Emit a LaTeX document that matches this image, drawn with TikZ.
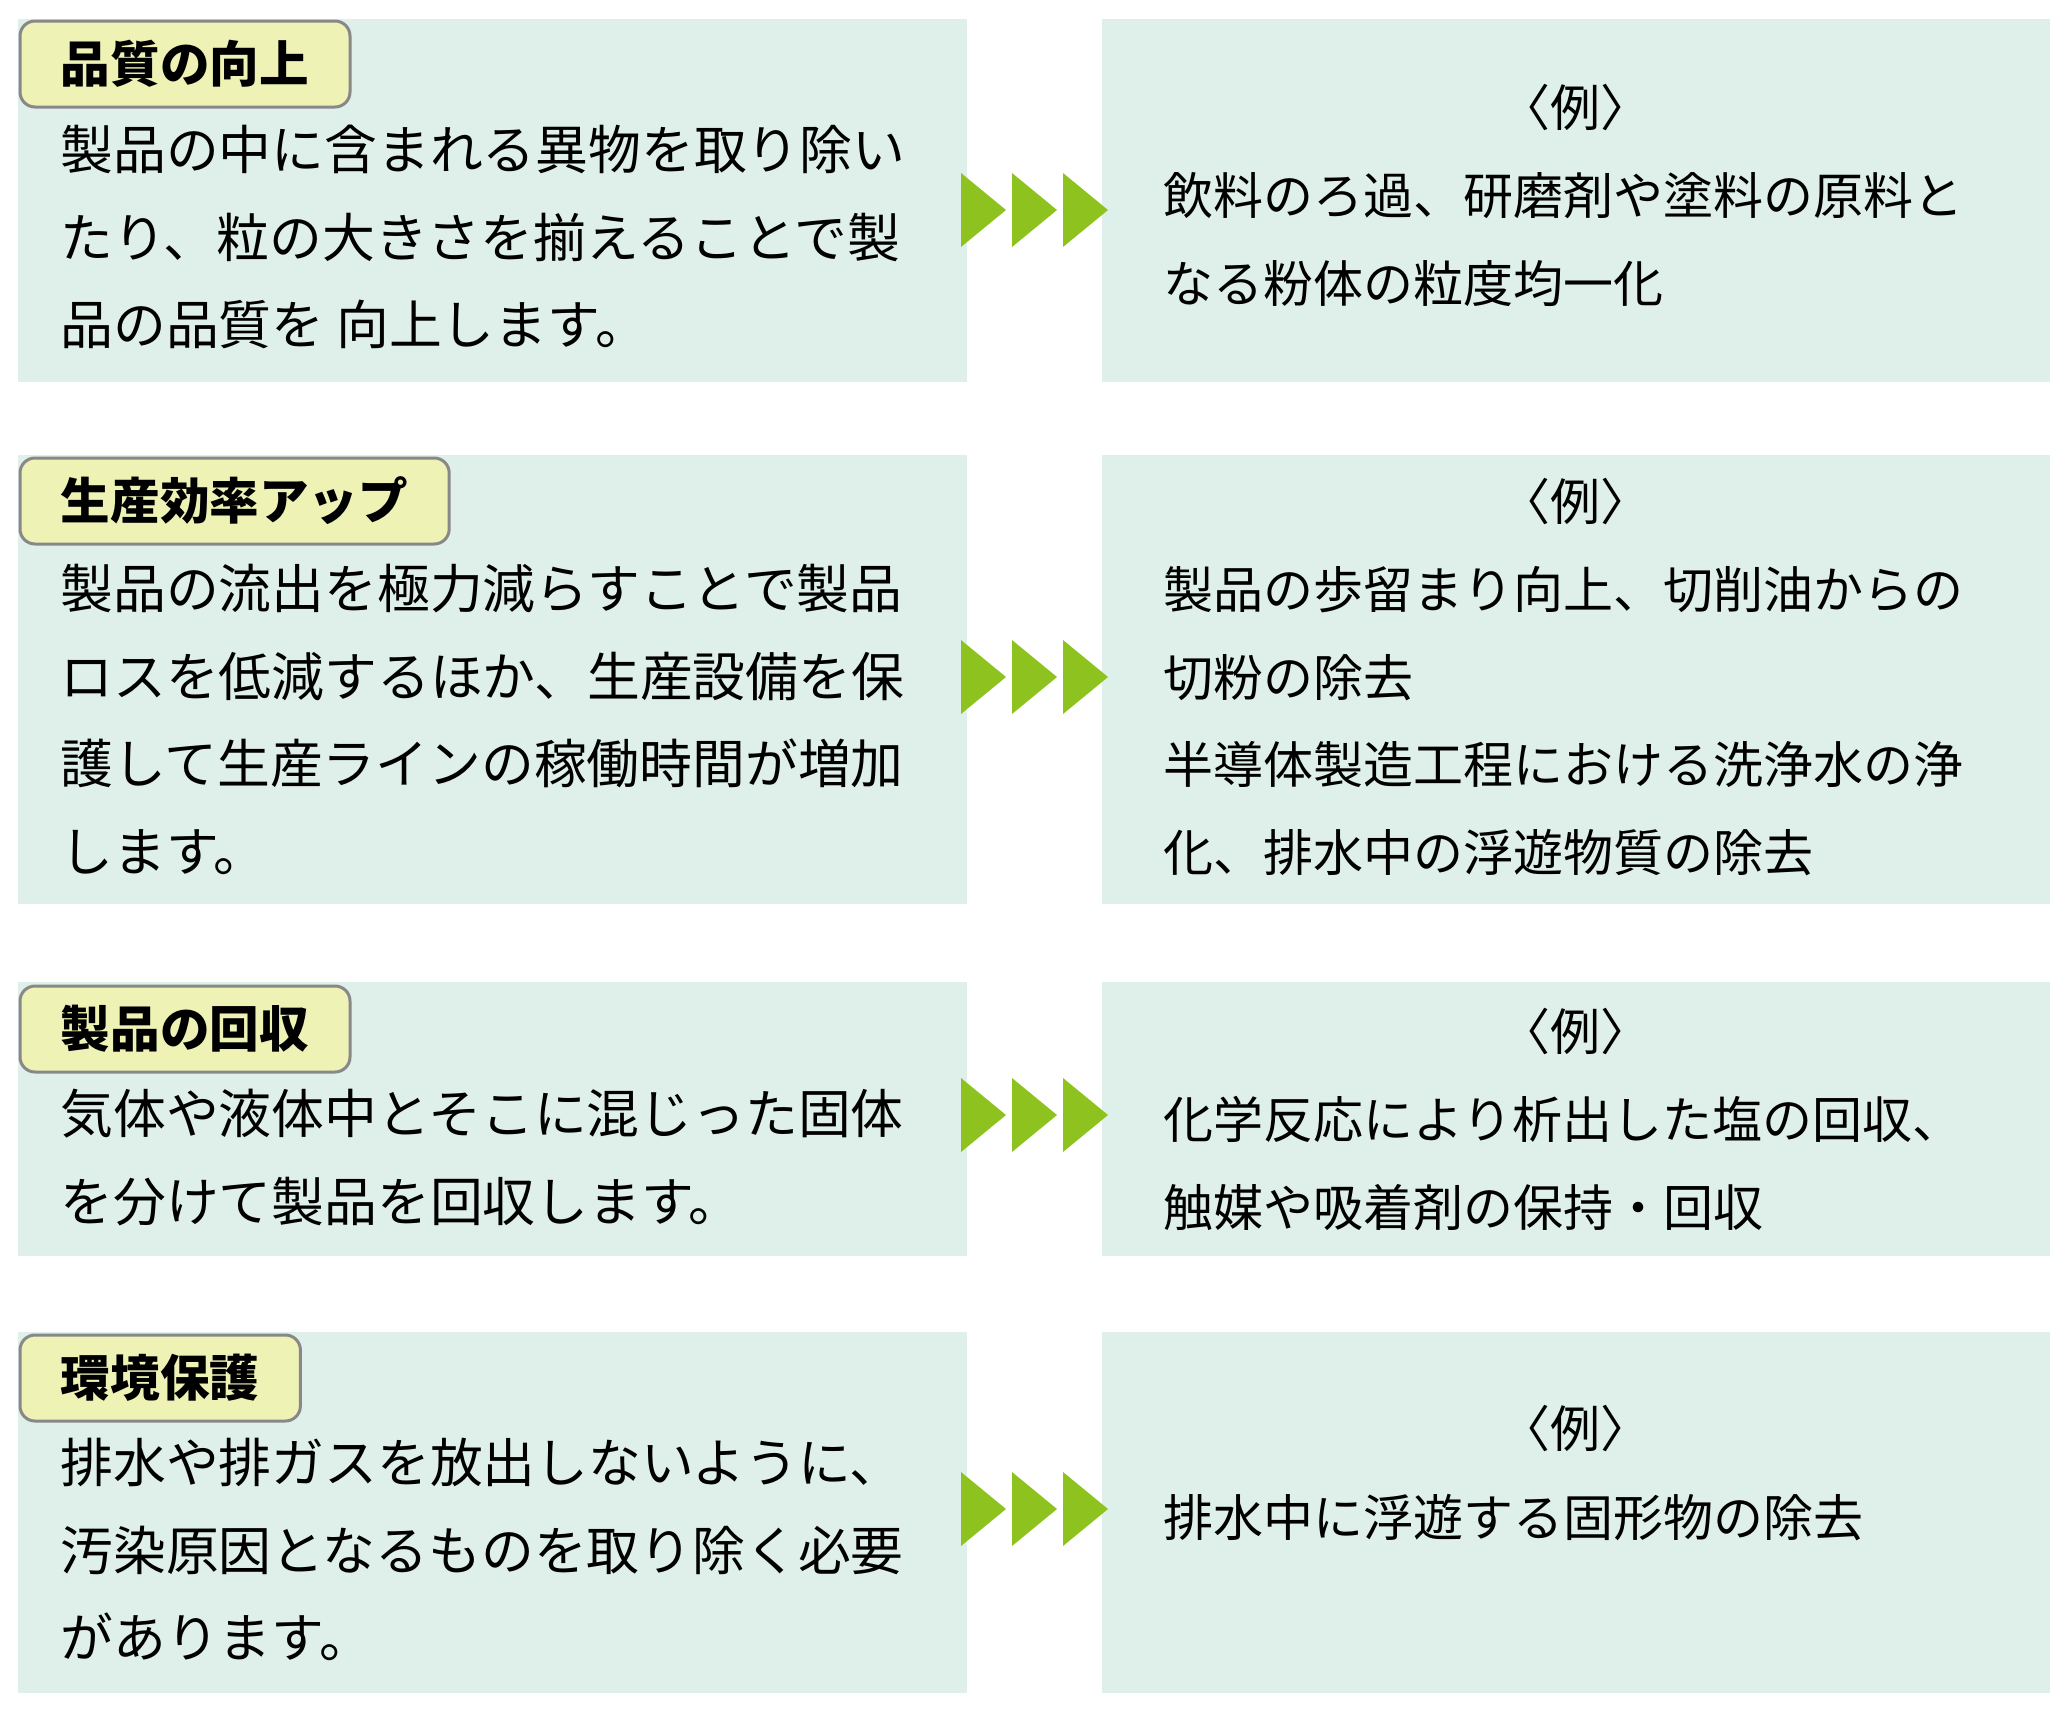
\documentclass[tikz,border=0pt]{standalone}
\usepackage{fontspec}
\newfontfamily\jp{Noto Sans CJK JP}
\usetikzlibrary{positioning}
\definecolor{boxfill}{HTML}{DFF0EA}
\definecolor{tagfill}{HTML}{EEF2B5}
\definecolor{tagline}{HTML}{888888}
\definecolor{arrowgreen}{HTML}{8DC21F}

\begin{document}
\begin{tikzpicture}[x=0.5pt,y=-0.5pt,every node/.style={inner sep=0pt},
  tag/.style={draw=tagline,line width=1.5pt,fill=tagfill,rounded corners=7.5pt,anchor=north west,
    minimum height=43pt,inner xsep=20.5pt,font=\jp\bfseries\fontsize{24.8}{30}\selectfont},
  body/.style={anchor=north west,align=left,font=\jp\fontsize{26.4}{43.75}\selectfont},
  exbody/.style={anchor=north west,align=left,font=\jp\fontsize{25}{43.75}\selectfont},
  exhead/.style={font=\jp\fontsize{25}{43.75}\selectfont}]
\useasboundingbox (0,0) rectangle (2068,1709);
\fill[boxfill] (18,19) rectangle (967,382);
\fill[boxfill] (1102,19) rectangle (2050,382);
\fill[boxfill] (18,455) rectangle (967,904);
\fill[boxfill] (1102,455) rectangle (2050,904);
\fill[boxfill] (18,982) rectangle (967,1256);
\fill[boxfill] (1102,982) rectangle (2050,1256);
\fill[boxfill] (18,1332) rectangle (967,1693);
\fill[boxfill] (1102,1332) rectangle (2050,1693);
\foreach \y in {210,677,1115,1509}
  \foreach \x in {961,1012,1063}
    \fill[arrowgreen] (\x,\y-37) -- (\x+45,\y) -- (\x,\y+37) -- cycle;
\node[tag] (tagA) at (18.5,19.5) {品質の向上};
\node[body] (txtA) at (60,108) {\strut 製品の中に含まれる異物を取り除い\\たり、粒の大きさを揃えることで製\\品の品質を 向上します。};
\node[exhead] (exA) at (1575,107) {〈例〉};
\node[exbody] (exlA) at (1163,153) {\strut 飲料のろ過、研磨剤や塗料の原料と\\なる粉体の粒度均一化};
\node[tag] (tagB) at (18.5,456.5) {生産効率アップ};
\node[body] (txtB) at (60,547) {\strut 製品の流出を極力減らすことで製品\\ロスを低減するほか、生産設備を保\\護して生産ラインの稼働時間が増加\\します。};
\node[exhead] (exB) at (1575,501) {〈例〉};
\node[exbody] (exlB) at (1163,547) {\strut 製品の歩留まり向上、切削油からの\\切粉の除去\\半導体製造工程における洗浄水の浄\\化、排水中の浮遊物質の除去};
\node[tag] (tagC) at (18.5,984.5) {製品の回収};
\node[body] (txtC) at (60,1072) {\strut 気体や液体中とそこに混じった固体\\を分けて製品を回収します。};
\node[exhead] (exC) at (1575,1031) {〈例〉};
\node[exbody] (exlC) at (1163,1077) {\strut 化学反応により析出した塩の回収、\\触媒や吸着剤の保持・回収};
\node[tag] (tagD) at (18.5,1333.5) {環境保護};
\node[body] (txtD) at (60,1421) {\strut 排水や排ガスを放出しないように、\\汚染原因となるものを取り除く必要\\があります。};
\node[exhead] (exD) at (1575,1428) {〈例〉};
\node[exbody] (exlD) at (1163,1475) {\strut 排水中に浮遊する固形物の除去};
\end{tikzpicture}
\end{document}
